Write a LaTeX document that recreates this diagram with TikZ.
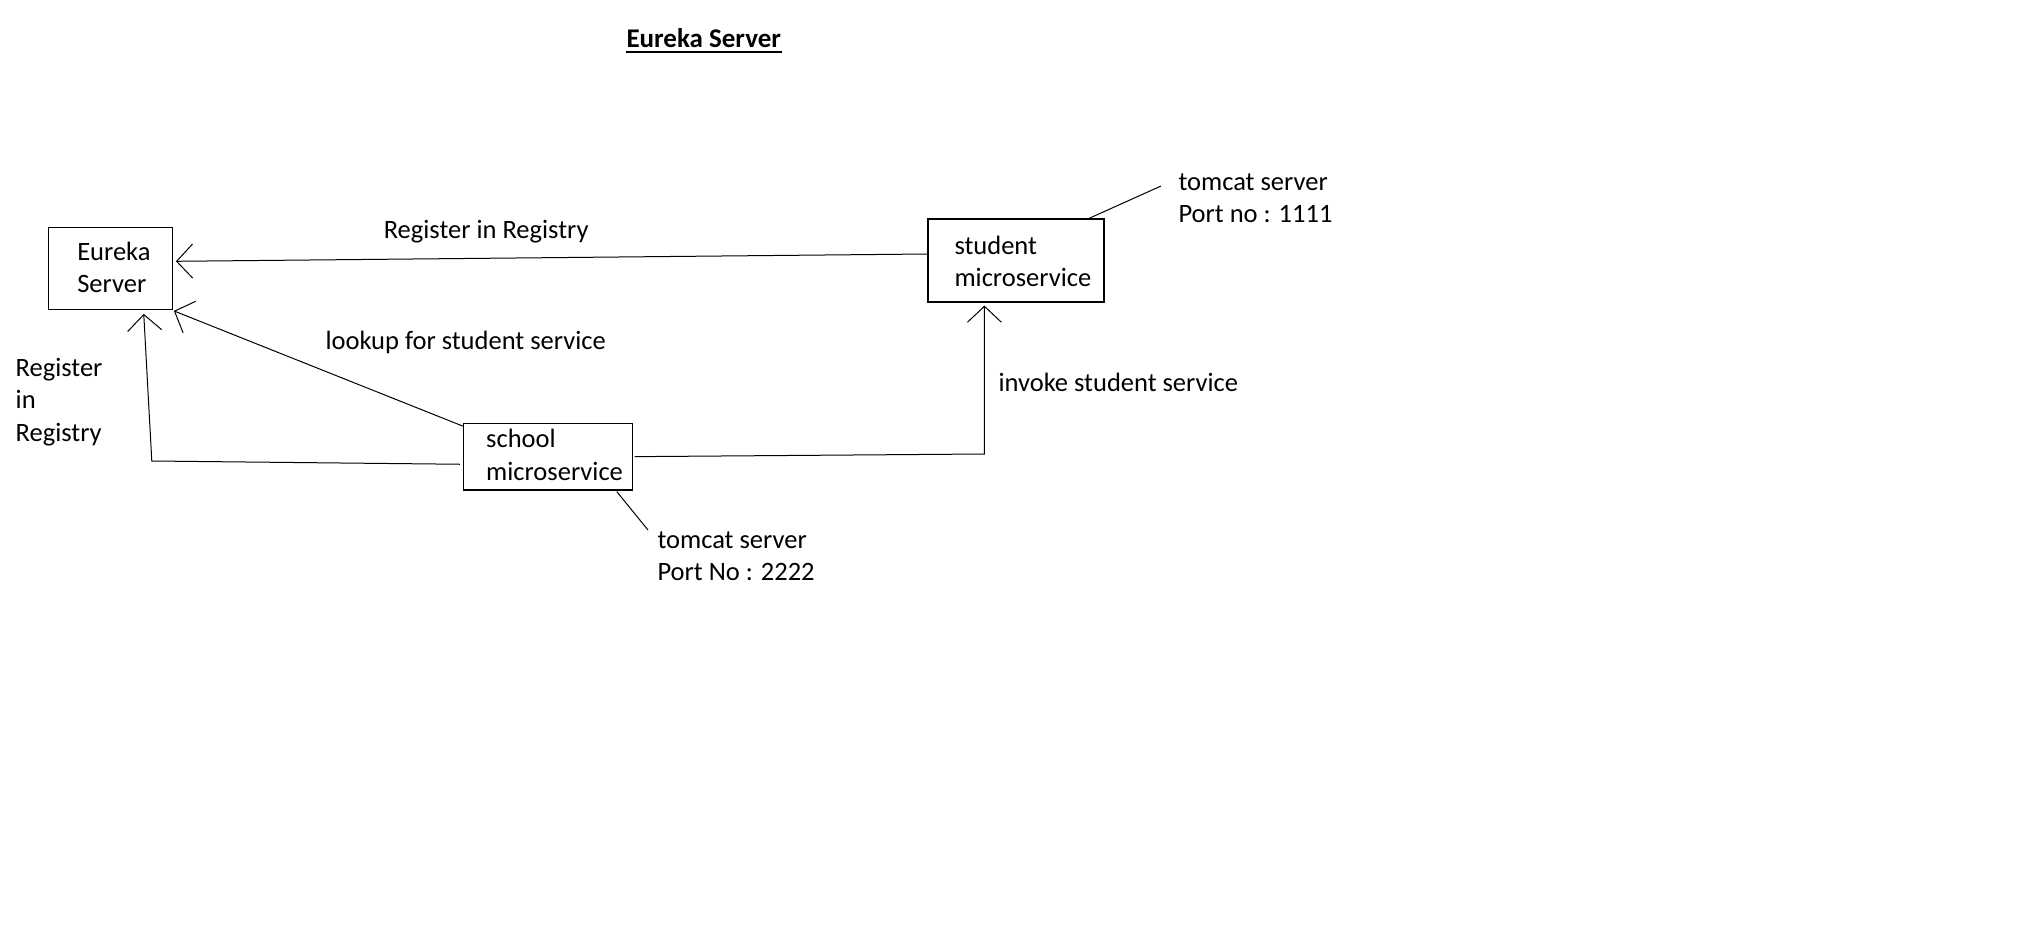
\documentclass[tikz,border=0pt]{standalone}
\usepackage{fontspec}
\setmainfont{Carlito}
\usetikzlibrary{arrows.meta}
\begin{document}
\begin{tikzpicture}[x=1pt,y=-1pt,line width=1pt,
  box/.style={draw,line width=1.2pt,inner sep=0pt},
  txt/.style={font=\fontsize{26.5}{32.5}\selectfont,inner sep=0pt,anchor=base west},
  arr/.style={-{Straight Barb[length=16pt,width=34pt]}}]
\fill[white] (0,0) rectangle (2019,945);
\useasboundingbox (0,0) rectangle (2019,945);

% title
\node[txt,font=\fontsize{27}{32}\selectfont\bfseries] (title) at (626,47.5) {Eureka Server};
\draw[line width=2.7pt] ([shift={(0,4.5)}]title.base west) -- ([shift={(0,4.5)}]title.base east);

% boxes
\node[box,minimum width=124.1pt,minimum height=82pt] (eureka) at (110.25,268.3) {};
\node[box,minimum width=176pt,minimum height=83pt] (student) at (1016,260.5) {};
\node[box,minimum width=168.7pt,minimum height=66.7pt] (school) at (547.75,456.65) {};

% box texts
\node[txt] (eurekatxt) at (76.8,260) {\vtop{\hbox{Eureka}\hbox{Server}}};
\node[txt] (studenttxt) at (954,254) {\vtop{\hbox{student}\hbox{microservice}}};
\node[txt] (schooltxt) at (485.7,447.5) {\vtop{\hbox{school}\hbox{microservice}}};

% labels
\node[txt] (tomcat1) at (1178,190) {\vtop{\hbox{tomcat server}\hbox{Port no : 1111}}};
\node[txt] (tomcat2) at (657,548) {\vtop{\hbox{tomcat server}\hbox{Port No : 2222}}};
\node[txt] (reg1) at (383.3,238.8) {Register in Registry};
\node[txt] (lookup) at (325,349.5) {lookup for student service};
\node[txt] (reg2) at (15.2,376) {\vtop{\hbox{Register}\hbox{in}\hbox{Registry}}};
\node[txt] (invoke) at (998,391) {invoke student service};

% connectors
\draw[arr] ([shift={(0,-6.5)}]student.west) -- ([shift={(3,-7)}]eureka.east);
\draw[arr] ([shift={(0,3.4)}]school.north west) -- ([shift={(1,1)}]eureka.south east);
\coordinate (c1) at (151.8,461);
\draw[arr] ([shift={(-3,7.6)}]school.west) -- (c1) -- ([shift={(33.5,4)}]eureka.south);
\coordinate (c2) at (984.4,454);
\draw[arr] ([shift={(2,0)}]school.east) -- (c2) -- ([shift={(-31.6,3)}]student.south);

% tomcat leader lines
\coordinate (t1) at (1161,186);
\draw ([shift={(73,0)}]student.north) -- (t1);
\coordinate (t2) at (648,530);
\draw ([shift={(69,1)}]school.south) -- (t2);
\end{tikzpicture}
\end{document}
